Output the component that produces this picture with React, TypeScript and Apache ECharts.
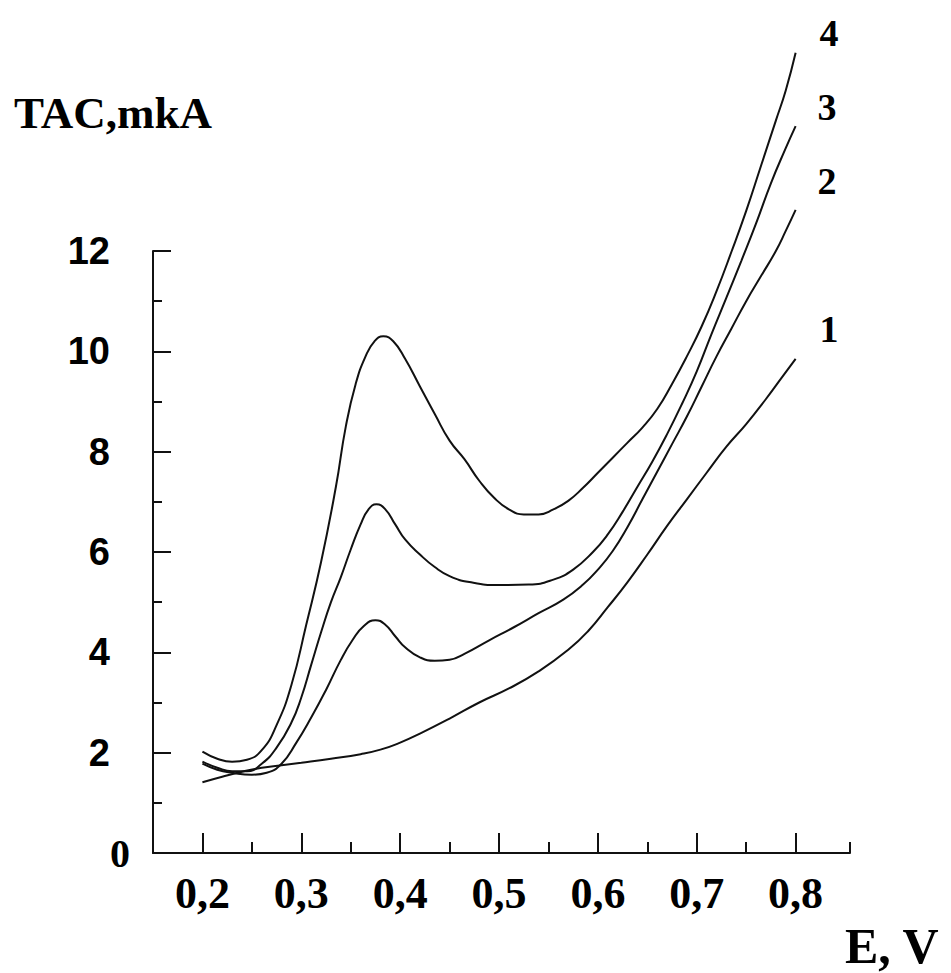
import React, { useEffect, useRef } from "react";
import * as echarts from "echarts";

// Axis ticks / labels
const yMajorTicks = [0, 2, 4, 6, 8, 10, 12];
const yMinorTicks = [1, 3, 5, 7, 9, 11];
const xMajorTicks = [0.2, 0.3, 0.4, 0.5, 0.6, 0.7, 0.8];
const xMinorTicks = [0.25, 0.35, 0.45, 0.55, 0.65, 0.75, 0.855];
const xLabels = ["0,2", "0,3", "0,4", "0,5", "0,6", "0,7", "0,8"];

// Curves: [E (V), TAC (mkA)]
const curve1: [number, number][] = [
  [0.2, 1.41], [0.22, 1.52], [0.24, 1.62], [0.26, 1.7], [0.28, 1.75], [0.3, 1.8],
  [0.33, 1.88], [0.36, 1.97], [0.38, 2.06], [0.4, 2.2], [0.42, 2.38], [0.45, 2.68],
  [0.48, 3.0], [0.51, 3.28], [0.54, 3.62], [0.57, 4.05], [0.59, 4.42], [0.61, 4.9],
  [0.63, 5.4], [0.65, 5.95], [0.67, 6.52], [0.69, 7.05], [0.71, 7.58], [0.73, 8.1],
  [0.75, 8.55], [0.77, 9.05], [0.785, 9.45], [0.8, 9.85],
];
const curve2: [number, number][] = [
  [0.2, 1.78], [0.215, 1.66], [0.23, 1.6], [0.25, 1.56], [0.265, 1.6], [0.28, 1.78],
  [0.295, 2.2], [0.31, 2.7], [0.325, 3.25], [0.34, 3.85], [0.352, 4.25], [0.363, 4.52],
  [0.375, 4.64], [0.385, 4.55], [0.395, 4.32], [0.405, 4.1], [0.42, 3.9], [0.435, 3.83],
  [0.45, 3.85], [0.465, 3.97], [0.49, 4.24], [0.515, 4.5], [0.54, 4.78], [0.565, 5.05],
  [0.585, 5.35], [0.6, 5.65], [0.615, 6.02], [0.63, 6.5], [0.645, 7.05], [0.66, 7.6],
  [0.675, 8.15], [0.69, 8.7], [0.705, 9.3], [0.72, 9.9], [0.735, 10.45], [0.75, 11.0],
  [0.765, 11.5], [0.78, 12.0], [0.79, 12.4], [0.8, 12.82],
];
const curve3: [number, number][] = [
  [0.2, 1.82], [0.215, 1.7], [0.23, 1.63], [0.245, 1.63], [0.26, 1.78], [0.275, 2.1],
  [0.29, 2.6], [0.3, 3.1], [0.31, 3.75], [0.32, 4.4], [0.33, 5.0], [0.34, 5.5],
  [0.35, 6.05], [0.36, 6.55], [0.368, 6.85], [0.376, 6.95], [0.385, 6.85], [0.395, 6.55],
  [0.405, 6.25], [0.42, 5.95], [0.435, 5.7], [0.45, 5.52], [0.47, 5.4], [0.5, 5.34],
  [0.53, 5.35], [0.555, 5.45], [0.575, 5.65], [0.595, 6.0], [0.61, 6.35], [0.625, 6.8],
  [0.64, 7.3], [0.655, 7.8], [0.67, 8.35], [0.685, 8.95], [0.7, 9.6], [0.715, 10.35],
  [0.73, 11.07], [0.745, 11.8], [0.76, 12.55], [0.775, 13.35], [0.79, 14.05], [0.8, 14.49],
];
const curve4: [number, number][] = [
  [0.2, 2.02], [0.215, 1.88], [0.23, 1.82], [0.245, 1.86], [0.26, 2.05], [0.275, 2.55],
  [0.29, 3.35], [0.305, 4.55], [0.32, 5.8], [0.335, 7.3], [0.345, 8.5], [0.355, 9.35],
  [0.365, 9.9], [0.374, 10.2], [0.383, 10.3], [0.393, 10.2], [0.405, 9.85], [0.42, 9.3],
  [0.435, 8.75], [0.45, 8.22], [0.465, 7.85], [0.48, 7.42], [0.495, 7.08], [0.51, 6.85],
  [0.525, 6.75], [0.54, 6.75], [0.555, 6.85], [0.57, 7.02], [0.585, 7.28], [0.6, 7.58],
  [0.615, 7.88], [0.63, 8.18], [0.645, 8.48], [0.66, 8.85], [0.675, 9.35], [0.69, 9.9],
  [0.705, 10.5], [0.72, 11.2], [0.735, 11.98], [0.75, 12.8], [0.765, 13.7], [0.78, 14.6],
  [0.79, 15.2], [0.8, 15.95],
];
const curveNames = ["1", "2", "3", "4"];
const curves = [curve1, curve2, curve3, curve4];
const labelOffsets: [number, number][] = [[24, -30], [22, -29], [22, -19], [24, -20]];

const SERIF = "'Liberation Serif', 'Times New Roman', serif";
const SANS = "'Liberation Sans', Arial, sans-serif";
const INK = "#111";

export default function App() {
  const ref = useRef<HTMLDivElement>(null);
  useEffect(() => {
    if (!ref.current) return;
    const chart = echarts.init(ref.current, undefined, { renderer: "svg" });
    chart.setOption({
      animation: false,
      backgroundColor: "#fff",
      title: {
        text: "E, V",
        left: 845,
        top: 921,
        padding: 0,
        textStyle: { fontFamily: SERIF, fontWeight: "bold", fontSize: 50, color: "#000" },
      },
      grid: { left: 153, right: 101, top: 251, bottom: 120, containLabel: false },
      xAxis: [
        {
          type: "value",
          min: 0.15,
          max: 0.855,
          position: "bottom",
          axisLine: { show: true, onZero: false, lineStyle: { color: INK, width: 2 } },
          axisTick: { show: true, inside: true, length: 20, customValues: xMajorTicks, lineStyle: { color: INK, width: 2 } },
          axisLabel: {
            show: true,
            customValues: xMajorTicks,
            formatter: (v: number) => {
              const i = xMajorTicks.findIndex((t) => Math.abs(t - v) < 1e-6);
              return i >= 0 ? xLabels[i] : "";
            },
            margin: 18,
            color: "#000",
            fontFamily: SERIF,
            fontWeight: "bold",
            fontSize: 44,
          },
          splitLine: { show: false },
        },
        {
          type: "value",
          min: 0.15,
          max: 0.855,
          position: "bottom",
          axisLine: { show: false, onZero: false },
          axisTick: { show: true, inside: true, length: 11, customValues: xMinorTicks, lineStyle: { color: INK, width: 2 } },
          axisLabel: { show: false },
          splitLine: { show: false },
        },
      ],
      yAxis: [
        {
          type: "value",
          min: 0,
          max: 12,
          interval: 2,
          position: "left",
          axisLine: { show: true, onZero: false, lineStyle: { color: INK, width: 2 } },
          axisTick: { show: true, inside: true, length: 18, customValues: yMajorTicks, lineStyle: { color: INK, width: 2 } },
          axisLabel: {
            margin: 43,
            formatter: (v: number) => (v === 0 ? "" : String(v)),
            fontFamily: SANS,
            fontWeight: "bold",
            fontSize: 38,
            color: "#000",
            padding: [0, 0, 6, 0],
          },
          splitLine: { show: false },
          name: "TAC,mkA",
          nameLocation: "end",
          nameGap: 138,
          nameTextStyle: {
            fontFamily: SERIF,
            fontWeight: "bold",
            fontSize: 45,
            color: "#000",
            align: "center",
            verticalAlign: "middle",
            padding: [0, 80, 0, 0],
          },
        },
        {
          type: "value",
          min: 0,
          max: 12,
          position: "left",
          axisLine: { show: false, onZero: false },
          axisTick: { show: true, inside: true, length: 9, customValues: yMinorTicks, lineStyle: { color: INK, width: 2 } },
          axisLabel: {
            show: true,
            customValues: [0],
            formatter: (v: number) => String(v),
            margin: 23,
            fontFamily: SERIF,
            fontWeight: "bold",
            fontSize: 40,
            color: "#000",
            padding: [0, 0, 4, 0],
          },
          splitLine: { show: false },
        },
      ],
      series: curves.map((data, i) => ({
        type: "line",
        name: curveNames[i],
        data,
        xAxisIndex: 0,
        yAxisIndex: 0,
        smooth: 0.5,
        showSymbol: false,
        symbol: "none",
        clip: false,
        lineStyle: { color: INK, width: 2 },
        endLabel: {
          show: true,
          formatter: curveNames[i],
          distance: 0,
          offset: labelOffsets[i],
          fontFamily: SERIF,
          fontWeight: "bold",
          fontSize: 38,
          color: "#000",
        },
      })),
    });
    return () => chart.dispose();
  }, []);
  return (
    <div
      ref={ref}
      style={{ position: "fixed", left: 0, top: 0, width: 951, height: 973, background: "#fff" }}
    />
  );
}
